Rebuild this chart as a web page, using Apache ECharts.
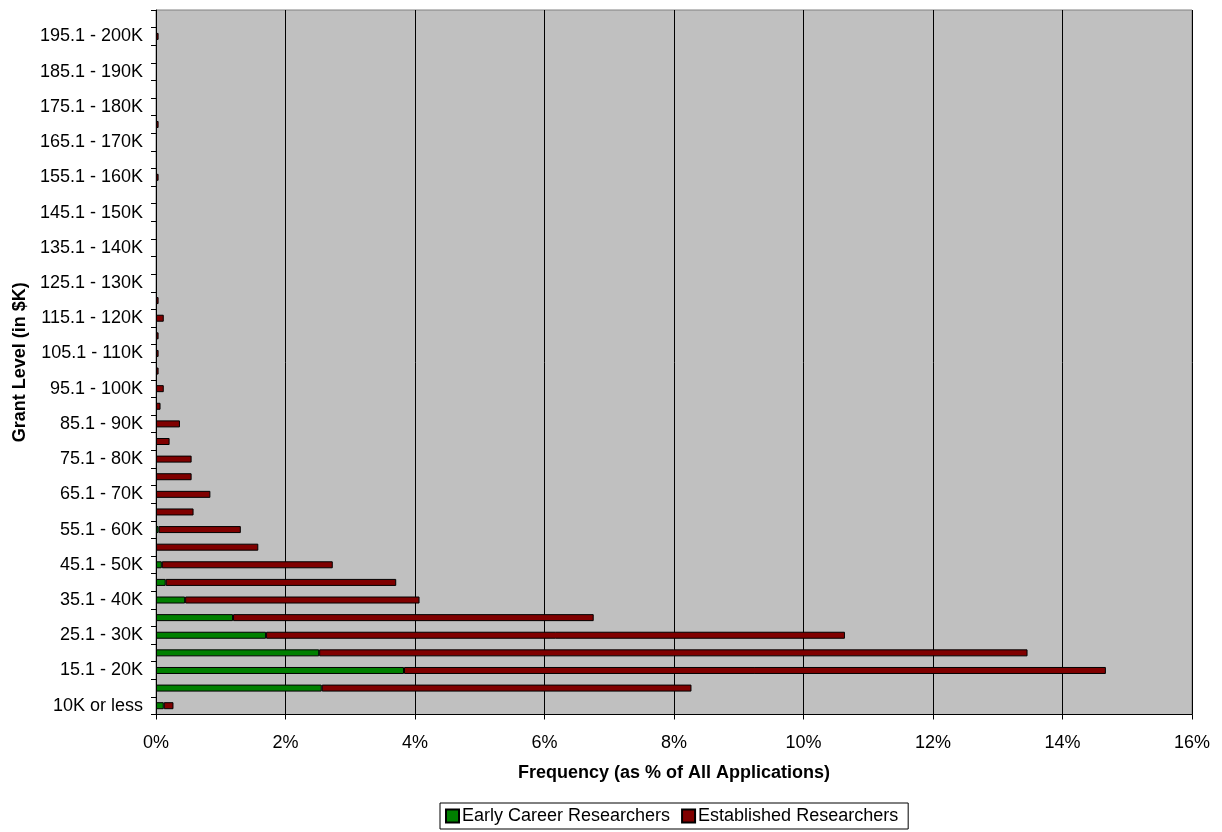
<!DOCTYPE html>
<html>
<head>
<meta charset="utf-8">
<script src="https://cdn.jsdelivr.net/npm/echarts@6/dist/echarts.min.js"></script>
<style>
  html, body { margin: 0; padding: 0; background: #fff; }
  #chart { width: 1222px; height: 832px; }
</style>
</head>
<body>
<div id="chart"></div>
<script>
// Grant level categories, bottom to top
const categories = [
  "10K or less", "10.1 - 15K", "15.1 - 20K", "20.1 - 25K", "25.1 - 30K",
  "30.1 - 35K", "35.1 - 40K", "40.1 - 45K", "45.1 - 50K", "50.1 - 55K",
  "55.1 - 60K", "60.1 - 65K", "65.1 - 70K", "70.1 - 75K", "75.1 - 80K",
  "80.1 - 85K", "85.1 - 90K", "90.1 - 95K", "95.1 - 100K", "100.1 - 105K",
  "105.1 - 110K", "110.1 - 115K", "115.1 - 120K", "120.1 - 125K", "125.1 - 130K",
  "130.1 - 135K", "135.1 - 140K", "140.1 - 145K", "145.1 - 150K", "150.1 - 155K",
  "155.1 - 160K", "160.1 - 165K", "165.1 - 170K", "170.1 - 175K", "175.1 - 180K",
  "180.1 - 185K", "185.1 - 190K", "190.1 - 195K", "195.1 - 200K", "200.1K +"
];

// Frequency (% of all applications)
const earlyCareer = [
  0.12, 2.56, 3.83, 2.52, 1.70, 1.19, 0.45, 0.15, 0.09, null,
  0.04, null, null, null, null, null, null, null, null, null,
  null, null, null, null, null, null, null, null, null, null,
  null, null, null, null, null, null, null, null, null, null
];

const established = [
  0.15, 5.71, 10.84, 10.94, 8.94, 5.57, 3.62, 3.56, 2.64, 1.58,
  1.27, 0.58, 0.84, 0.55, 0.55, 0.21, 0.37, 0.07, 0.12, 0.04,
  0.04, 0.04, 0.12, 0.04, null, null, null, null, null, null,
  0.04, null, null, 0.04, null, null, null, null, 0.04, null
];

const xTicks = { min: 0, max: 16, interval: 2 };

const FONT = "'Liberation Sans', Arial, sans-serif";

const chart = echarts.init(document.getElementById('chart'), null, { renderer: 'canvas' });

chart.setOption({
  animation: false,
  textStyle: { fontFamily: FONT },
  grid: {
    left: 156, right: 30, top: 10, bottom: 117.5,
    outerBoundsMode: 'none',
    containLabel: false,
    show: true,
    backgroundColor: '#C0C0C0',
    borderColor: '#808080',
    borderWidth: 1
  },
  legend: {
    left: 440,
    top: 803,
    orient: 'horizontal',
    borderColor: '#000',
    borderWidth: 1,
    padding: [4, 10, 4, 5],
    itemGap: 11,
    itemWidth: 13,
    itemHeight: 13,
    icon: 'rect',
    textStyle: { fontFamily: FONT, fontSize: 18, color: '#000', padding: [0, 0, 0, -2] },
    data: ['Early Career Researchers', 'Established Researchers']
  },
  xAxis: {
    type: 'value',
    min: xTicks.min,
    max: xTicks.max,
    interval: xTicks.interval,
    name: 'Frequency (as % of All Applications)',
    nameLocation: 'middle',
    nameGap: 50,
    nameTextStyle: { fontFamily: FONT, fontSize: 18, fontWeight: 'bold', color: '#000' },
    axisLine: { show: true, lineStyle: { color: '#000', width: 1 } },
    axisTick: { show: true, inside: false, length: 5, lineStyle: { color: '#000' } },
    axisLabel: { formatter: '{value}%', fontFamily: FONT, fontSize: 18, color: '#000', margin: 20 },
    splitLine: { show: true, lineStyle: { color: '#000', width: 1 } }
  },
  yAxis: {
    type: 'category',
    data: categories,
    name: 'Grant Level (in $K)',
    nameLocation: 'middle',
    nameGap: 126,
    nameTextStyle: { fontFamily: FONT, fontSize: 18, fontWeight: 'bold', color: '#000' },
    axisLine: { show: true, lineStyle: { color: '#000', width: 1 } },
    axisTick: { show: true, interval: 0, length: 5, alignWithLabel: false, lineStyle: { color: '#000' } },
    axisLabel: { interval: 1, fontFamily: FONT, fontSize: 18, color: '#000', margin: 13 },
    splitLine: { show: false }
  },
  series: [
    {
      name: 'Early Career Researchers',
      type: 'bar',
      stack: 'total',
      data: earlyCareer,
      barWidth: 7,
      itemStyle: { color: '#008000', borderColor: '#000', borderWidth: 1 }
    },
    {
      name: 'Established Researchers',
      type: 'bar',
      stack: 'total',
      data: established,
      barWidth: 7,
      itemStyle: { color: '#800000', borderColor: '#000', borderWidth: 1 }
    }
  ]
});
</script>
</body>
</html>
